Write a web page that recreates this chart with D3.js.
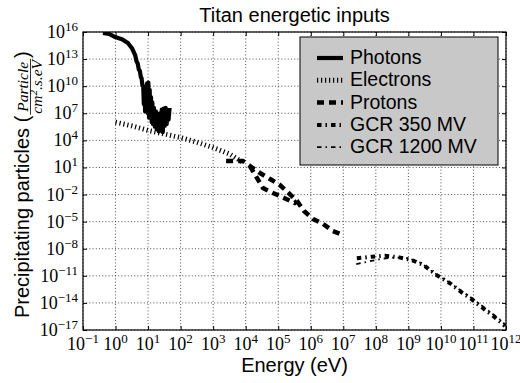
<!DOCTYPE html>
<html><head><meta charset="utf-8">
<script src="https://cdn.jsdelivr.net/npm/d3@7"></script>
<style>body{margin:0;background:#fff}svg{display:block}</style>
</head><body><svg id="c" width="520" height="383"></svg>
<script>
// ---------- data (energy in eV, flux in particle / cm^2.s.eV) ----------
const photonE=[0.41,0.63,0.96,1.58,2.4,3.2,4.0,4.4,4.8,5.2,5.6,6.0,6.3,6.7,7.1,7.4,7.8,8.1,8.5,8.9,9.3,9.8,10.2,10.7,11.2,11.7,12.3,12.9,13.5,14.1,15.1,16.2,17.4,18.6,20,21.4,22.9,24.5,26.3,28.2,30.2,32.4,34.7,37.2,39.8,42.7,45.7];
const photonF=[7.8e15,6.3e15,2.8e15,1.6e15,6.0e14,1.6e14,2.8e13,6.0e12,3.2e12,7.0e11,4.8e11,1.0e11,7.9e10,1.2e10,1e10,1e8,3.2e9,1.6e7,6.3e9,3.2e7,2.0e10,1e7,2.5e10,3.2e6,4.0e9,6.3e6,6.3e8,1e6,1.6e8,6.3e5,4.0e7,3.2e5,1.6e7,1.6e5,6.3e6,1e5,1e7,2.0e5,2.5e7,7.9e4,3.2e7,4.0e5,4.0e7,6.3e5,2.0e7,2.0e6,4.0e7];

const electronE=[1,3.2,10,32,100,316,1000,3162,7943];
const electronF=[1e6,4e5,1.26e5,5e4,2e4,6.3e3,1.6e3,316,40];

// null separates the two drawn pieces of the proton curve
const protonE=[2.5e3,8.3e3,1.35e4,2.75e4,5.6e4,1.12e5,2.1e5,3.8e5,6.2e5,1.17e6,2.4e6,4.8e6,9.8e6,null,1.35e4,3.4e4,6.9e4,1.5e5,3.2e5,3.8e5];
const protonF=[51,51,14.5,2.45,0.52,0.115,0.0148,1.95e-3,1.5e-4,1.95e-5,5.5e-6,9.1e-7,3.3e-7,null,14.5,0.052,0.0148,4.2e-3,1.15e-3,1.95e-3];

const gcr350E=[2.6e7,7.4e7,1.9e8,5.2e8,1.26e9,2.9e9,7.4e9,1.9e10,4.1e10,8.9e10,2.0e11,4.3e11,9.3e11];
const gcr350F=[8.7e-10,1.3e-9,1.7e-9,1.1e-9,5.6e-10,1.6e-10,1.2e-11,1.5e-12,1.7e-13,2.5e-14,2.5e-15,3.0e-16,2.8e-17];

const gcr1200E=[2.5e7,6.3e7,1.6e8,4.0e8,1e9,2.5e9,6.3e9,1.6e10,4.0e10,1e11,2.5e11,6.3e11,1e12];
const gcr1200F=[2.0e-10,4.0e-10,7.9e-10,1.1e-9,8.9e-10,2.5e-10,2.0e-11,2.5e-12,2.5e-13,2.5e-14,2.0e-15,1.6e-16,3.2e-17];

const xTickExp=[-1,0,1,2,3,4,5,6,7,8,9,10,11,12];
const yTickExp=[-17,-14,-11,-8,-5,-2,1,4,7,10,13,16];

const seriesNames=["Photons","Electrons","Protons","GCR 350 MV","GCR 1200 MV"];
const titleText="Titan energetic inputs";
const xLabelText="Energy (eV)";

// ---------- layout ----------
const L=83,R=506,T=32,B=330;
const x=d3.scaleLog().domain([1e-1,1e12]).range([L,R]);
const y=d3.scaleLog().domain([1e-17,1e16]).range([B,T]);
const xTicks=xTickExp.map(e=>Math.pow(10,e));
const yTicks=yTickExp.map(e=>Math.pow(10,e));

const SANS='"Liberation Sans", Arial, Helvetica, sans-serif';
const SERIF='"Liberation Serif", "Times New Roman", serif';

const svg=d3.select('#c');
svg.append('defs').append('clipPath').attr('id','clip')
  .append('rect').attr('x',L).attr('y',T).attr('width',R-L).attr('height',B-T);

// grid
const grid=svg.append('g').attr('stroke','#222').attr('stroke-width',0.8).attr('stroke-dasharray','1,2.2');
grid.selectAll('.gx').data(xTicks).join('line').attr('class','gx')
  .attr('x1',d=>x(d)).attr('x2',d=>x(d)).attr('y1',T).attr('y2',B);
grid.selectAll('.gy').data(yTicks).join('line').attr('class','gy')
  .attr('x1',L).attr('x2',R).attr('y1',d=>y(d)).attr('y2',d=>y(d));

// series
const styles=[
  {w:4.2,dash:null},
  {w:5,dash:'1.2,2.8'},
  {w:4.5,dash:'7,5'},
  {w:4,dash:'4.5,4,1.5,4'},
  {w:1.8,dash:'4.5,4,1.5,4'}
];
const pairs=(E,F)=>E.map((e,i)=>e==null?null:[e,F[i]]);
const series=[pairs(photonE,photonF),pairs(electronE,electronF),pairs(protonE,protonF),pairs(gcr350E,gcr350F),pairs(gcr1200E,gcr1200F)];
const line=d3.line().defined(d=>d!=null).x(d=>x(d[0])).y(d=>y(d[1]));
const lg=svg.append('g').attr('clip-path','url(#clip)');
series.forEach((s,i)=>{
  lg.append('path').attr('d',line(s)).attr('fill','none').attr('stroke','#000')
    .attr('stroke-width',styles[i].w).attr('stroke-dasharray',styles[i].dash)
    .attr('stroke-linejoin','round');
});

// axes (ticks inward on all four sides)
const axB=svg.append('g').attr('transform',`translate(0,${B})`).call(d3.axisBottom(x).tickValues(xTicks).tickSize(-4).tickFormat(''));
const axT=svg.append('g').attr('transform',`translate(0,${T})`).call(d3.axisTop(x).tickValues(xTicks).tickSize(-4).tickFormat(''));
const axL=svg.append('g').attr('transform',`translate(${L},0)`).call(d3.axisLeft(y).tickValues(yTicks).tickSize(-4).tickFormat(''));
const axRr=svg.append('g').attr('transform',`translate(${R},0)`).call(d3.axisRight(y).tickValues(yTicks).tickSize(-4).tickFormat(''));
[axB,axT,axL,axRr].forEach(a=>{a.selectAll('.domain').remove();a.selectAll('line').attr('stroke','#000').attr('stroke-width',1);});
svg.append('rect').attr('x',L).attr('y',T).attr('width',R-L).attr('height',B-T)
  .attr('fill','none').attr('stroke','#000').attr('stroke-width',1.2);

// tick labels
const fmtExp=e=>(e<0?'\u2212':'')+Math.abs(e);
xTickExp.forEach((e,i)=>{
  const t=svg.append('text').attr('x',x(xTicks[i])).attr('y',350).attr('text-anchor','middle')
    .style('font-family',SERIF).style('font-size','18px');
  t.append('tspan').text('10');
  t.append('tspan').attr('dy',-7).style('font-size','13px').text(fmtExp(e));
});
yTickExp.forEach((e,i)=>{
  const t=svg.append('text').attr('x',78).attr('y',y(yTicks[i])+6).attr('text-anchor','end')
    .style('font-family',SERIF).style('font-size','18px');
  t.append('tspan').text('10');
  t.append('tspan').attr('dy',-7).style('font-size','13px').text(fmtExp(e));
});

// title & x label
svg.append('text').attr('x',(L+R)/2).attr('y',22).attr('text-anchor','middle')
  .style('font-family',SANS).style('font-size','20px').text(titleText);
svg.append('text').attr('x',(L+R)/2).attr('y',372).attr('text-anchor','middle')
  .style('font-family',SANS).style('font-size','20px').text(xLabelText);

// y label with fraction
const yl=svg.append('g').attr('transform','translate(29,0) rotate(-90)');
const t1=yl.append('text').style('font-family',SANS).style('font-size','20px').text('Precipitating particles (');
const w1=t1.node().getComputedTextLength();
const num=yl.append('text').attr('text-anchor','middle').style('font-family',SERIF).style('font-style','italic').style('font-size','15.5px').text('Particle');
const den=yl.append('text').attr('text-anchor','middle').style('font-family',SERIF).style('font-style','italic').style('font-size','15.5px');
den.append('tspan').text('cm');
den.append('tspan').attr('dy',-5).style('font-size','11px').text('2');
den.append('tspan').attr('dy',5).text('.s.eV');
const wn=num.node().getComputedTextLength(), wd=den.node().getComputedTextLength();
const t3=yl.append('text').style('font-family',SANS).style('font-size','20px').text(')');
const fw=Math.max(wn,wd)+4;
const u0=-318;
t1.attr('x',u0).attr('y',0);
const fc=u0+w1+fw/2;
num.attr('x',fc).attr('y',-1.5);
den.attr('x',fc).attr('y',13);
yl.append('line').attr('x1',fc-fw/2+1).attr('x2',fc+fw/2-1).attr('y1',1.5).attr('y2',1.5).attr('stroke','#000').attr('stroke-width',0.8);
t3.attr('x',u0+w1+fw).attr('y',0);

// legend
const lgd=svg.append('g');
lgd.append('rect').attr('x',300).attr('y',37).attr('width',198).attr('height',128)
  .attr('fill','#c8c8c8').attr('stroke','#000').attr('stroke-width',1);
seriesNames.forEach((n,i)=>{
  const by=64+i*22.3;
  lgd.append('line').attr('x1',317).attr('x2',343).attr('y1',by-6).attr('y2',by-6)
    .attr('stroke','#000').attr('stroke-width',styles[i].w).attr('stroke-dasharray',styles[i].dash);
  lgd.append('text').attr('x',350).attr('y',by).style('font-family',SANS).style('font-size','19.5px').text(n);
});
</script></body></html>
